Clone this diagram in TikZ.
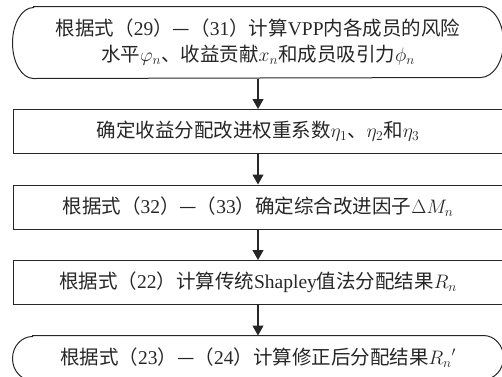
\RequirePackage{fix-cm}
\documentclass[tikz,border=0pt]{standalone}
\usepackage[no-math]{fontspec}
\setmainfont{Noto Sans CJK SC}
\newfontfamily\tnr{Liberation Serif}
\usetikzlibrary{positioning,arrows.meta}

\tikzset{
  stepbox/.style={draw=black!85, line width=1pt, minimum width=490pt, minimum height=44pt,
    inner sep=0pt, align=center, text=black!85, font=\fontsize{19.5}{26}\selectfont},
  termbox/.style={stepbox, draw=none},
  flow/.style={draw=black!85, line width=1.1pt, -{Triangle[length=10pt,width=11pt]}}
}

\begin{document}
\begin{tikzpicture}[node distance=30.5pt]
    \useasboundingbox (0,0) rectangle (502pt,-376pt);

    % steps
    \node[termbox, minimum height=71pt] (start) at (258pt,-42.5pt)
        {根据式（{\tnr 29}）—（{\tnr 31}）计算{\tnr VPP}内各成员的风险\\水平$\varphi_n$、收益贡献$x_n$和成员吸引力$\phi_n$};
    \node[stepbox, below=of start] (weight) {确定收益分配改进权重系数$\eta_1$、$\eta_2$和$\eta_3$};
    \node[stepbox, below=of weight] (factor) {根据式（{\tnr 32}）—（{\tnr 33}）确定综合改进因子$\Delta M_n$};
    \node[stepbox, below=of factor] (shapley) {根据式（{\tnr 22}）计算传统{\tnr Shapley}值法分配结果$R_n$};
    \node[termbox, below=of shapley] (result) {根据式（{\tnr 23}）—（{\tnr 24}）计算修正后分配结果${R_n}'$};

    % rounded ends of start and result
    \draw[draw=black!85, line width=1pt] ([xshift=21pt]start.north west) -- ([xshift=-23pt]start.north east)
        arc[start angle=90, end angle=-90, x radius=23pt, y radius=35.5pt]
        -- ([xshift=21pt]start.south west)
        arc[start angle=270, end angle=90, x radius=21pt, y radius=35.5pt] -- cycle;
    \draw[draw=black!85, line width=1pt] ([xshift=20pt]result.north west) -- ([xshift=-20pt]result.north east)
        arc[start angle=90, end angle=-90, x radius=20pt, y radius=22pt]
        -- ([xshift=20pt]result.south west)
        arc[start angle=270, end angle=90, x radius=20pt, y radius=22pt] -- cycle;

    % connectors
    \draw[flow] (start) -- (weight);
    \draw[flow] (weight) -- (factor);
    \draw[flow] (factor) -- (shapley);
    \draw[flow] (shapley) -- (result);
\end{tikzpicture}
\end{document}
